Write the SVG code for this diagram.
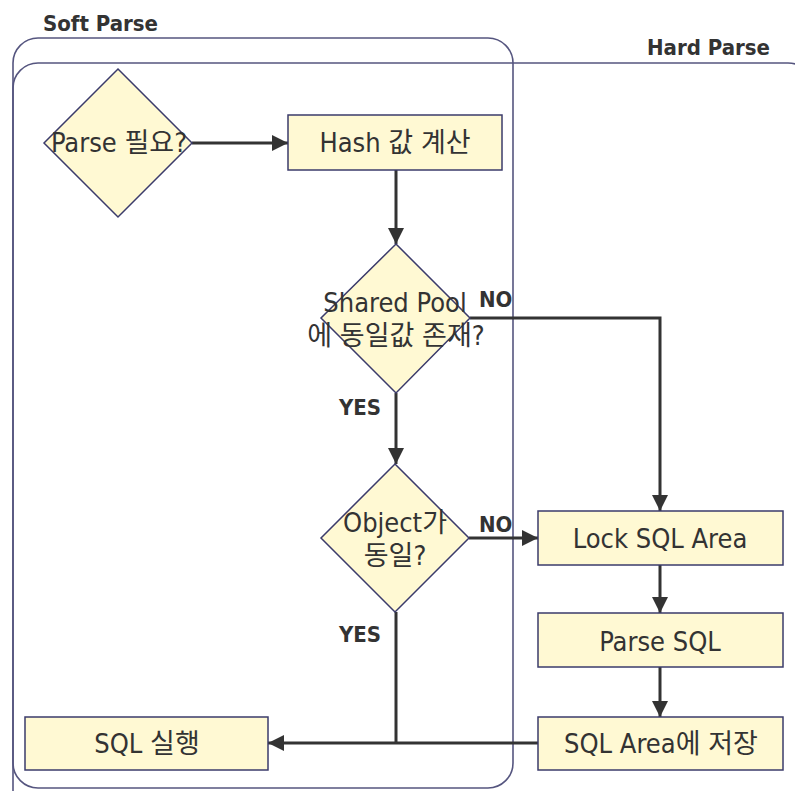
<svg xmlns="http://www.w3.org/2000/svg" width="795" height="791" viewBox="0 0 795 791">
<style>
.cont{fill:none;stroke:#55557f;stroke-width:1.6}
.box{fill:#fff9d3;stroke:#3b3b6b;stroke-width:1.5}
.t{font-family:"DejaVu Sans Condensed","DejaVu Sans","Noto Sans CJK KR",sans-serif;font-size:27px;fill:#333333;text-anchor:middle}
.lb{font-family:"DejaVu Sans Condensed","DejaVu Sans",sans-serif;font-weight:bold;font-size:22px;fill:#333333}
.hd{font-family:"DejaVu Sans Condensed","DejaVu Sans",sans-serif;font-weight:bold;font-size:22px;fill:#333333}
.c{fill:none;stroke:#333333;stroke-width:3}
</style>
<defs>
<marker id="ah" markerUnits="userSpaceOnUse" markerWidth="17" markerHeight="16" refX="16" refY="8" orient="auto">
<path d="M0,0 L16,8 L0,16 Z" fill="#333333"/>
</marker>
</defs>
<g id="containers">
<rect class="cont" x="13" y="63" width="800" height="780" rx="25"/>
<rect class="cont" x="13" y="38" width="500" height="750" rx="25"/>
<text class="hd" x="43" y="31">Soft Parse</text>
<text class="hd" x="647" y="55">Hard Parse</text>
</g>
<g id="connectors">
<path class="c" d="M192,143 H288" marker-end="url(#ah)"/>
<path class="c" d="M396,170 V244" marker-end="url(#ah)"/>
<path class="c" d="M470,318 H660 V511" marker-end="url(#ah)"/>
<path class="c" d="M396,393 V464" marker-end="url(#ah)"/>
<path class="c" d="M469,538 H538" marker-end="url(#ah)"/>
<path class="c" d="M660,565 V613" marker-end="url(#ah)"/>
<path class="c" d="M660,667 V717" marker-end="url(#ah)"/>
<path class="c" d="M538,743 H268" marker-end="url(#ah)"/>
<path class="c" d="M396,612 V743"/>
<text class="lb" x="479" y="307">NO</text>
<text class="lb" x="339" y="415">YES</text>
<text class="lb" x="479" y="532">NO</text>
<text class="lb" x="339" y="642">YES</text>
</g>
<g id="n-parse-need">
<polygon class="box" points="118,69 192,143 118,217 44,143"/>
<text class="t" x="119" y="152">Parse 필요?</text>
</g>
<g id="n-hash">
<rect class="box" x="288" y="115" width="214" height="55"/>
<text class="t" x="395" y="152">Hash 값 계산</text>
</g>
<g id="n-shared-pool">
<polygon class="box" points="396,244 470,318 396,393 321,318"/>
<text class="t" x="395" y="312">Shared Pool</text>
<text class="t" x="396" y="345">에 동일값 존재?</text>
</g>
<g id="n-object">
<polygon class="box" points="395,464 469,538 395,612 321,538"/>
<text class="t" x="395" y="532">Object가</text>
<text class="t" x="395" y="565">동일?</text>
</g>
<g id="n-lock">
<rect class="box" x="538" y="511" width="245" height="54"/>
<text class="t" x="660" y="548">Lock SQL Area</text>
</g>
<g id="n-parse-sql">
<rect class="box" x="538" y="613" width="245" height="54"/>
<text class="t" x="660" y="651">Parse SQL</text>
</g>
<g id="n-store">
<rect class="box" x="538" y="717" width="245" height="53"/>
<text class="t" x="661" y="753">SQL Area에 저장</text>
</g>
<g id="n-exec">
<rect class="box" x="25" y="717" width="243" height="53"/>
<text class="t" x="147" y="753">SQL 실행</text>
</g>
</svg>
